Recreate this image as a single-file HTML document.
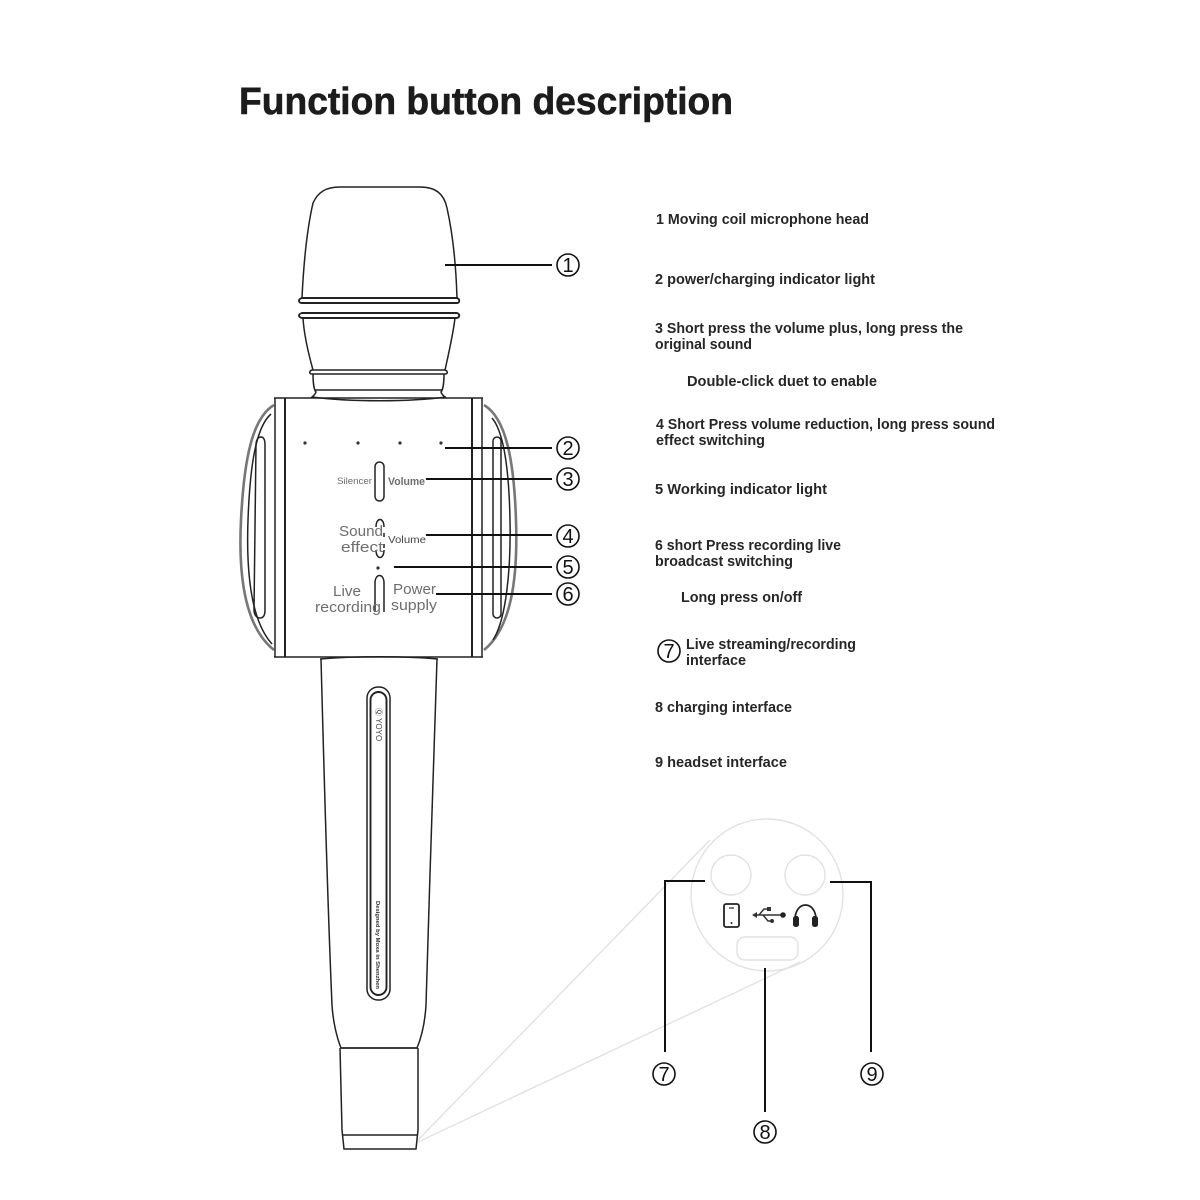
<!DOCTYPE html>
<html lang="en">
<head>
<meta charset="utf-8">
<title>Function button description</title>
<style>
html,body{margin:0;padding:0;background:#fff}
svg{display:block;filter:blur(.3px)}
text{font-family:"Liberation Sans",sans-serif}
.d{font-size:14.5px;font-weight:bold;fill:#262626}
.n{font-size:20px;fill:#111;text-anchor:middle}
.l{fill:none;stroke:#222;stroke-width:1.5}
.c{fill:none;stroke:#111;stroke-width:2}
.g{fill:#6e6e6e}
</style>
</head>
<body>
<svg width="1200" height="1200" viewBox="0 0 1200 1200" xmlns="http://www.w3.org/2000/svg">
<rect width="1200" height="1200" fill="#fff"/>

<text x="239" y="114" font-size="38" font-weight="bold" fill="#1c1c1c" stroke="#1c1c1c" stroke-width=".6" textLength="494" lengthAdjust="spacingAndGlyphs">Function button description</text>

<!-- projection lines and port detail -->
<g fill="none" stroke="#e2e2e2" stroke-width="1.4">
<path d="M418 1140L710 840"/>
<path d="M418 1142L800 962"/>
<circle cx="767" cy="895" r="76"/>
<circle cx="731" cy="875" r="20"/>
<circle cx="805" cy="875" r="20"/>
<rect x="737" y="937" width="61" height="23" rx="8"/>
</g>

<!-- head -->
<g class="l">
<path d="M302 298C304 255 308 225 313 203C318 192 326 187 340 187L420 187C436 187 444 194 447 208C453 235 456 265 457 298"/>
<path d="M302 298H457C460 299 460 303 457 303H302C298 303 298 299 302 298Z" stroke-width="1.900"/>
<path d="M302 313H457C460 314 460 317 457 318H302C298 317 298 314 302 313Z" stroke-width="1.900"/>
<path d="M303 318C304 335 308 352 313 370M455 318C453 335 449 352 445 370"/>
<path d="M312 370H445C448 371 448 374 445 374H312C309 374 309 371 312 370Z"/>
<path d="M313 374C313 382 314 390 316 392C315 395 313 396 311 398M444 374C444 382 443 390 441 392C442 395 444 396 446 398"/>
<path d="M315 390H442"/>
<path d="M312 397C350 402 410 402 446 397"/>
</g>

<!-- body -->
<g class="l">
<path d="M274 398H483"/>
<path d="M274 657H483"/>
<path d="M275 398V657"/>
<path d="M285 398V657" stroke-width="2"/>
<path d="M472 398V657" stroke-width="2"/>
<path d="M482 398V657"/>
<path d="M274 405C252 418 244 460 241 520C238 580 246 628 274 650" stroke="#777" stroke-width="2.600"/>
<path d="M271 414C256 427 250 465 248 520C246 575 252 622 272 644"/>
<path d="M256 445C256 440 258 437 261 437C264 437 265 440 265 445V610C265 616 263 618 260 618C256 618 254 614 254 610Z"/>
<path d="M484 405C506 418 514 460 516 520C518 580 511 628 484 650" stroke="#777" stroke-width="2.600"/>
<path d="M492 418C504 432 509 470 510 520C511 570 506 620 493 640"/>
<rect x="493" y="437" width="8" height="181" rx="4"/>
</g>

<!-- buttons and dots -->
<g class="l">
<rect x="375" y="462" width="9" height="39" rx="4.5"/>
<path d="M376 527C376 517 384 517 384 527M376 550C376 560 384 560 384 550M384 533V537M384 544V548"/>
<path d="M375 612V583C375 573 384 573 384 583V612"/>
</g>
<g fill="#333">
<circle cx="305" cy="443" r="1.6"/>
<circle cx="358" cy="443" r="1.6"/>
<circle cx="400" cy="443" r="1.6"/>
<circle cx="441" cy="443" r="1.6"/>
<circle cx="378" cy="568" r="1.6"/>
</g>

<!-- handle -->
<g class="l">
<path d="M320 659C355 656 405 656 438 659"/>
<path d="M321 659C324 770 327 890 332 1005C333 1022 337 1038 341 1048H417C422 1036 425 1022 426 1005C429 890 434 770 437 659"/>
<path d="M341 1048H417"/>
<path d="M340 1048L342 1130L344 1149H416L418 1130V1048"/>
<path d="M342 1135H418"/>
<rect x="367" y="687" width="23" height="313" rx="11"/>
<rect x="370.500" y="692" width="16" height="303" rx="8" stroke-width="1.900"/>
</g>
<text transform="translate(376 708) rotate(90)" font-size="8" fill="#444">Ⓠ YOYO</text>
<text transform="translate(376 901) rotate(90)" font-size="5.500" font-weight="bold" fill="#333" textLength="88" lengthAdjust="spacingAndGlyphs">Designed by Moxa in Shenzhen</text>

<!-- microphone labels -->
<text x="337" y="484" font-size="9.500" class="g" textLength="35" lengthAdjust="spacingAndGlyphs">Silencer</text>
<text x="388" y="485" font-size="11" class="g" font-weight="bold" textLength="37" lengthAdjust="spacingAndGlyphs">Volume</text>
<text x="339" y="536" font-size="15" class="g" textLength="44" lengthAdjust="spacingAndGlyphs">Sound</text>
<text x="341" y="552" font-size="15" class="g" textLength="42" lengthAdjust="spacingAndGlyphs">effect</text>
<text x="388" y="543" font-size="10.500" fill="#444" textLength="38" lengthAdjust="spacingAndGlyphs">Volume</text>
<text x="333" y="596" font-size="15" class="g" textLength="28" lengthAdjust="spacingAndGlyphs">Live</text>
<text x="315" y="612" font-size="15" class="g" textLength="66" lengthAdjust="spacingAndGlyphs">recording</text>
<text x="393" y="594" font-size="15" class="g" textLength="43" lengthAdjust="spacingAndGlyphs">Power</text>
<text x="391" y="610" font-size="15" class="g" textLength="46" lengthAdjust="spacingAndGlyphs">supply</text>

<!-- callouts -->
<g class="c">
<path d="M445 265H552"/>
<path d="M445 448H552"/>
<path d="M426 479H552"/>
<path d="M426 535H552"/>
<path d="M394 567H552"/>
<path d="M436 594H552"/>
<path d="M705 881H665V1052"/>
<path d="M830 882H871V1052"/>
<path d="M765 968V1112"/>
<circle cx="568" cy="265" r="11" stroke-width="1.600"/>
<circle cx="568" cy="448" r="11" stroke-width="1.600"/>
<circle cx="568" cy="479" r="11" stroke-width="1.600"/>
<circle cx="568" cy="536" r="11" stroke-width="1.600"/>
<circle cx="568" cy="567" r="11" stroke-width="1.600"/>
<circle cx="568" cy="594" r="11" stroke-width="1.600"/>
<circle cx="669" cy="651" r="11" stroke-width="1.600"/>
<circle cx="664" cy="1074" r="11" stroke-width="1.600"/>
<circle cx="872" cy="1074" r="11" stroke-width="1.600"/>
<circle cx="765" cy="1132" r="11" stroke-width="1.600"/>
</g>
<text x="568" y="272" class="n">1</text>
<text x="568" y="455" class="n">2</text>
<text x="568" y="486" class="n">3</text>
<text x="568" y="543" class="n">4</text>
<text x="568" y="574" class="n">5</text>
<text x="568" y="601" class="n">6</text>
<text x="669" y="658" class="n">7</text>
<text x="664" y="1081" class="n">7</text>
<text x="872" y="1081" class="n">9</text>
<text x="765" y="1139" class="n">8</text>

<!-- port icons -->
<rect x="724" y="904" width="15" height="23" rx="2" fill="none" stroke="#222" stroke-width="1.800"/>
<path d="M729 908H734" stroke="#222" stroke-width="1.200"/>
<circle cx="731.500" cy="923" r="1" fill="#222"/>
<g fill="none" stroke="#333" stroke-width="1.500">
<path d="M754 915H782"/>
<path d="M759 915L764 909H769M763 915L768 921H772"/>
</g>
<path d="M752 915L757 912V918Z" fill="#333"/>
<circle cx="783" cy="915" r="2.800" fill="#222"/>
<rect x="767" y="907" width="4" height="4" fill="#333"/>
<circle cx="772" cy="921" r="2" fill="#333"/>
<path d="M795 920C795 900 816 900 816 920" fill="none" stroke="#222" stroke-width="1.800"/>
<rect x="793" y="916" width="6" height="11" rx="2.500" fill="#222"/>
<rect x="812" y="916" width="6" height="11" rx="2.500" fill="#222"/>

<!-- description list -->
<g class="d">
<text x="656" y="224" textLength="213" lengthAdjust="spacingAndGlyphs">1 Moving coil microphone head</text>
<text x="655" y="284" textLength="220" lengthAdjust="spacingAndGlyphs">2 power/charging indicator light</text>
<text x="655" y="333" textLength="308" lengthAdjust="spacingAndGlyphs">3 Short press the volume plus, long press the</text>
<text x="655" y="349" textLength="97" lengthAdjust="spacingAndGlyphs">original sound</text>
<text x="687" y="386" textLength="190" lengthAdjust="spacingAndGlyphs">Double-click duet to enable</text>
<text x="656" y="429" textLength="339" lengthAdjust="spacingAndGlyphs">4 Short Press volume reduction, long press sound</text>
<text x="656" y="445" textLength="109" lengthAdjust="spacingAndGlyphs">effect switching</text>
<text x="655" y="494" textLength="172" lengthAdjust="spacingAndGlyphs">5 Working indicator light</text>
<text x="655" y="550" textLength="186" lengthAdjust="spacingAndGlyphs">6 short Press recording live</text>
<text x="655" y="566" textLength="138" lengthAdjust="spacingAndGlyphs">broadcast switching</text>
<text x="681" y="602" textLength="121" lengthAdjust="spacingAndGlyphs">Long press on/off</text>
<text x="686" y="649" textLength="170" lengthAdjust="spacingAndGlyphs">Live streaming/recording</text>
<text x="686" y="665" textLength="60" lengthAdjust="spacingAndGlyphs">interface</text>
<text x="655" y="712" textLength="137" lengthAdjust="spacingAndGlyphs">8 charging interface</text>
<text x="655" y="767" textLength="132" lengthAdjust="spacingAndGlyphs">9 headset interface</text>
</g>
</svg>
</body>
</html>
